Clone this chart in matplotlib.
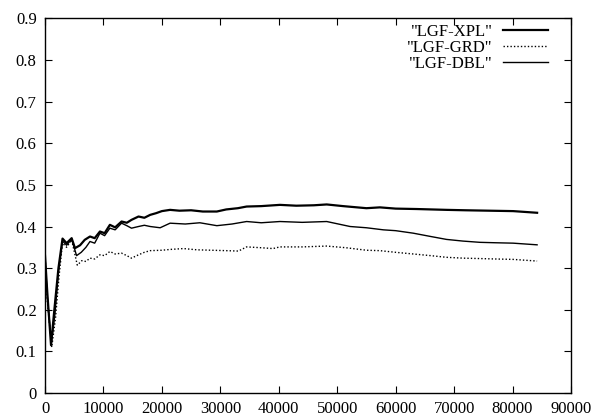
import matplotlib
matplotlib.use("Agg")
import matplotlib.pyplot as plt

xpl_x = [0, 400, 1030, 1600, 2300, 3000, 3700, 4560, 5130, 6000, 6800, 7700, 8500, 9400,
         10200, 11100, 12000, 13100, 14000, 14800, 16000, 17000, 18000, 19000, 20000,
         21400, 23000, 25000, 27000, 29400, 31000, 33000, 34500, 37000, 40200, 43000,
         46000, 48200, 51000, 55000, 57300, 60000, 63600, 68700, 72000, 76000, 80100, 84200]
xpl_y = [0.33, 0.24, 0.115, 0.2, 0.3, 0.371, 0.36, 0.372, 0.348, 0.355, 0.368, 0.376,
         0.372, 0.388, 0.384, 0.404, 0.398, 0.412, 0.409, 0.416, 0.424, 0.421, 0.428,
         0.432, 0.437, 0.44, 0.438, 0.439, 0.436, 0.436, 0.441, 0.444, 0.448, 0.449,
         0.452, 0.45, 0.451, 0.453, 0.449, 0.444, 0.446, 0.443, 0.442, 0.44, 0.439,
         0.438, 0.437, 0.433]

dbl_x = [0, 400, 1100, 1700, 2300, 3000, 3700, 4560, 5400, 6200, 7000, 7700, 8500, 9400,
         10200, 11100, 12000, 13100, 14000, 14800, 16000, 17000, 18000, 19700, 21400,
         24000, 26500, 29400, 32000, 34500, 37000, 40200, 44000, 48200, 52200, 55000,
         57900, 60000, 63000, 66000, 68700, 71500, 74400, 77000, 80100, 84200]
dbl_y = [0.33, 0.23, 0.12, 0.19, 0.29, 0.365, 0.355, 0.37, 0.33, 0.338, 0.35, 0.364,
         0.36, 0.384, 0.378, 0.396, 0.392, 0.408, 0.402, 0.396, 0.4, 0.403, 0.4, 0.397,
         0.408, 0.406, 0.409, 0.402, 0.406, 0.412, 0.409, 0.412, 0.41, 0.412, 0.4,
         0.397, 0.392, 0.39, 0.384, 0.376, 0.369, 0.365, 0.362, 0.361, 0.36, 0.356]

grd_x = [0, 400, 1150, 1800, 2400, 3000, 3700, 4560, 5530, 6300, 7000, 7700, 8500, 9400,
         10200, 11100, 12000, 13100, 14000, 14800, 16000, 17000, 18000, 20000, 21500,
         23700, 26000, 28500, 31000, 33100, 34500, 37000, 39000, 40200, 44000, 48200,
         51500, 55000, 57300, 60000, 63000, 66000, 68700, 71500, 74400, 77000, 80100, 84200]
grd_y = [0.33, 0.22, 0.11, 0.18, 0.28, 0.36, 0.35, 0.368, 0.307, 0.318, 0.316, 0.324,
         0.322, 0.332, 0.33, 0.34, 0.334, 0.336, 0.33, 0.324, 0.332, 0.338, 0.342,
         0.343, 0.345, 0.347, 0.344, 0.343, 0.342, 0.341, 0.351, 0.349, 0.347, 0.351,
         0.351, 0.353, 0.349, 0.343, 0.342, 0.338, 0.334, 0.33, 0.326, 0.324, 0.323,
         0.322, 0.321, 0.317]

x_ticks = list(range(0, 90001, 10000))
y_ticks = [i / 10 for i in range(10)]
y_labels = ['0'] + ['0.%d' % i for i in range(1, 10)]

plt.rcParams['font.family'] = ['Liberation Serif', 'DejaVu Serif']
plt.rcParams['font.size'] = 12

fig = plt.figure(figsize=(5.94, 4.18), dpi=100)
ax = fig.add_axes([45 / 594, 25 / 418, 526 / 594, 374.6 / 418])

ax.plot(xpl_x, xpl_y, color='black', lw=1.6, label='"LGF-XPL"')
ax.plot(grd_x, grd_y, color='black', lw=1.0, linestyle=(0, (1, 1.5)), label='"LGF-GRD"')
ax.plot(dbl_x, dbl_y, color='black', lw=1.0, label='"LGF-DBL"')

ax.set_xlim(0, 90000)
ax.set_ylim(0, 0.9)
ax.set_xticks(x_ticks)
ax.set_xticklabels([str(v) for v in x_ticks], fontfamily='Liberation Serif', fontsize=12)
ax.set_yticks(y_ticks)
ax.set_yticklabels(y_labels, fontfamily='Liberation Serif', fontsize=12)
ax.tick_params(direction='in', top=True, right=True, length=5, width=0.8, pad=6)
for s in ax.spines.values():
    s.set_linewidth(1.0)

ax.legend(loc='upper right', bbox_to_anchor=(0.956, 0.986), frameon=False,
          markerfirst=False, borderpad=0, borderaxespad=0, labelspacing=0.0,
          handlelength=2.7, handletextpad=0.6)

fig.savefig('out.png', dpi=100)
